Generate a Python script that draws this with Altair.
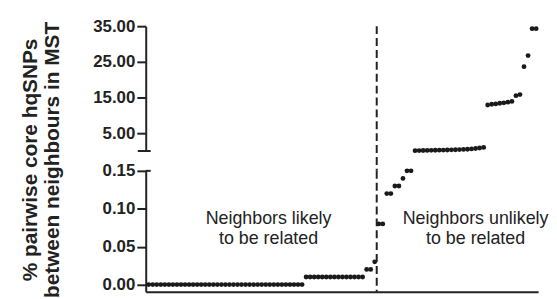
import altair as alt
import pandas as pd

# sorted % pairwise core hqSNP differences between MST neighbours
zeros = [0.0] * 39
low_001 = [0.01] * 15
low_rest = [0.02, 0.02, 0.03, 0.08, 0.08, 0.12, 0.12, 0.13, 0.13, 0.14, 0.15, 0.15]
upper_row = [0.25, 0.27, 0.30, 0.32, 0.35, 0.38, 0.40, 0.42, 0.45, 0.48,
             0.52, 0.56, 0.60, 0.66, 0.75, 0.85, 1.00, 1.15]
high_row = [13.0, 13.2, 13.3, 13.5, 13.6, 13.8, 14.0]
top_vals = [15.6, 15.9, 23.7, 26.8, 34.3, 34.3]

values = zeros + low_001 + low_rest + upper_row + high_row + top_vals
df = pd.DataFrame({"idx": list(range(len(values))), "pct": values})

split_value = 0.15
divider_idx = 56.5

lower_ticks = [0.0, 0.05, 0.10, 0.15]
upper_ticks = [5, 15, 25, 35]

ann = pd.DataFrame({
    "idx": [29.7, 81.0],
    "pct": [0.086, 0.086],
    "label": ["Neighbors likely\nto be related", "Neighbors unlikely\nto be related"],
})

W = 396
H_UP = 126
H_LO = 122
GAP = 20
xdom = [-0.74, 96.49]
ink = "#222222"

xs = alt.Scale(domain=xdom, nice=False, zero=False)

# ---------- upper segment ----------
up_pts = alt.Chart(df).transform_filter(alt.datum.pct > split_value).mark_circle(
    size=24, color="#1a1a1a", opacity=1
).encode(
    x=alt.X("idx:Q", scale=xs, axis=None),
    y=alt.Y("pct:Q", scale=alt.Scale(domain=[0.15, 35], nice=False, zero=False),
            axis=alt.Axis(values=upper_ticks, format=".2f", title=None)),
)
up_rule = alt.Chart(pd.DataFrame({"idx": [divider_idx]})).mark_rule(
    color=ink, strokeWidth=2, strokeDash=[8, 4]
).encode(x=alt.X("idx:Q", scale=xs, axis=None), y=alt.value(0), y2=alt.value(H_UP + GAP))
up_cap = alt.Chart(pd.DataFrame({"pct": [0.15]})).mark_rule(color=ink, strokeWidth=2).encode(
    y="pct:Q", x=alt.value(-8), x2=alt.value(5)
)
upper = alt.layer(up_pts, up_rule, up_cap).properties(width=W, height=H_UP)

# ---------- lower segment ----------
lo_pts = alt.Chart(df).transform_filter(alt.datum.pct <= split_value).mark_circle(
    size=24, color="#1a1a1a", opacity=1
).encode(
    x=alt.X("idx:Q", scale=xs,
            axis=alt.Axis(labels=False, ticks=False, title=None, domain=True)),
    y=alt.Y("pct:Q", scale=alt.Scale(domain=[-0.0094, 0.15], nice=False, zero=False),
            axis=alt.Axis(values=lower_ticks, format=".2f", title=None)),
)
lo_rule = alt.Chart(pd.DataFrame({"idx": [divider_idx]})).mark_rule(
    color=ink, strokeWidth=2, strokeDash=[8, 4]
).encode(x=alt.X("idx:Q", scale=xs), y=alt.value(0), y2=alt.value(H_LO))
lo_cap = alt.Chart(pd.DataFrame({"pct": [0.15]})).mark_rule(color=ink, strokeWidth=2).encode(
    y="pct:Q", x=alt.value(0), x2=alt.value(5)
)
lo_text = alt.Chart(ann).mark_text(
    font="Liberation Sans", fontSize=18, color=ink, lineBreak="\n", lineHeight=20,
    align="center", baseline="middle"
).encode(x=alt.X("idx:Q", scale=xs), y="pct:Q", text="label:N")
lower = alt.layer(lo_pts, lo_rule, lo_cap, lo_text).properties(width=W, height=H_LO)

chart = alt.vconcat(upper, lower, spacing=GAP, bounds="flush").resolve_scale(
    y="independent", x="independent"
).properties(
    title=alt.TitleParams(
        text=["% pairwise core hqSNPs", "between neighbours in MST"],
        orient="left", anchor="middle", font="Liberation Sans", fontSize=21,
        fontWeight="bold", color=ink, offset=30, lineHeight=22, dx=-5,
    ),
    padding={"left": 12, "top": 8, "right": 0, "bottom": 0},
).configure_view(stroke=None).configure_axis(
    labelFont="Liberation Sans", labelFontWeight="bold", labelFontSize=17,
    labelColor=ink, domainColor=ink, domainWidth=2, tickColor=ink, tickWidth=2,
    tickSize=9, labelPadding=2, grid=False,
)

chart.save("out.html", embed_options={"renderer": "svg", "actions": False})
